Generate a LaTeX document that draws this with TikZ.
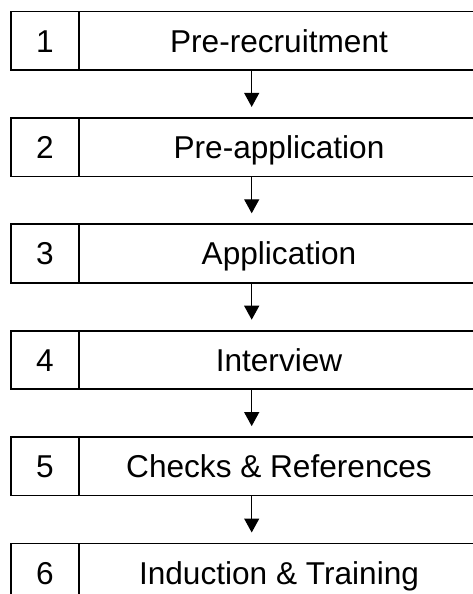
\documentclass[tikz,border=0pt]{standalone}
\usepackage{fontspec}
\setmainfont{Liberation Sans}
\usetikzlibrary{arrows.meta,positioning}

\begin{document}
\begin{tikzpicture}[>=Stealth, x=1pt, y=1pt,
  numbox/.style={draw, line width=1.7pt, minimum width=68pt, minimum height=58.5pt,
    inner sep=0pt, outer sep=0pt, text height=22.6pt, text depth=0pt,
    font=\fontsize{31.6}{36}\selectfont},
  stagebox/.style={draw, line width=1.7pt, minimum width=400pt, minimum height=58.5pt,
    inner sep=0pt, outer sep=0pt, text height=22.6pt, text depth=0pt,
    font=\fontsize{31.6}{36}\selectfont},
  flow/.style={-{Triangle[width=15pt,length=14pt]}, line width=1.3pt, shorten >=11pt}]
  \useasboundingbox (0,0) rectangle (473,-594);
  \begin{scope}
    \clip (0,0) rectangle (473,-594);
    % stages
    \node[numbox] (n1) at (45,-40.75) {1};
    \node[stagebox, right=0pt of n1] (s1) {Pre-recruitment};
    \node[numbox, below=47.9pt of n1] (n2) {2};
    \node[stagebox, right=0pt of n2] (s2) {Pre-application};
    \node[numbox, below=47.9pt of n2] (n3) {3};
    \node[stagebox, right=0pt of n3] (s3) {Application};
    \node[numbox, below=47.9pt of n3] (n4) {4};
    \node[stagebox, right=0pt of n4] (s4) {Interview};
    \node[numbox, below=47.9pt of n4] (n5) {5};
    \node[stagebox, right=0pt of n5] (s5) {Checks \& References};
    \node[numbox, below=47.9pt of n5] (n6) {6};
    \node[stagebox, right=0pt of n6] (s6) {Induction \& Training};
    % arrows between stages
    \coordinate (axis) at (251.7,0);
    \draw[flow] (s1.south -| axis) -- (s2.north -| axis);
    \draw[flow] (s2.south -| axis) -- (s3.north -| axis);
    \draw[flow] (s3.south -| axis) -- (s4.north -| axis);
    \draw[flow] (s4.south -| axis) -- (s5.north -| axis);
    \draw[flow] (s5.south -| axis) -- (s6.north -| axis);
  \end{scope}
\end{tikzpicture}
\end{document}
